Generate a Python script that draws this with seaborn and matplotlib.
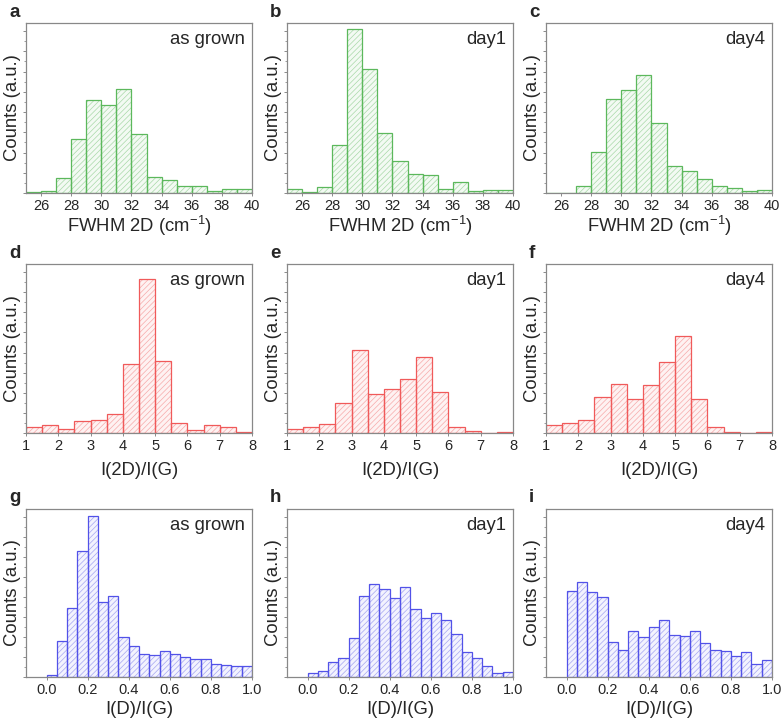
import numpy as np
import pandas as pd
import seaborn as sns
import matplotlib.pyplot as plt
from matplotlib.ticker import MultipleLocator, AutoMinorLocator

# bin edges for each row
fwhm_edges = np.arange(25, 40.5, 1.0)
ratio_edges = np.arange(1, 8.25, 0.5)
dg_edges = np.round(np.arange(0, 1.025, 0.05), 2)

# counts (a.u.)
fwhm_asgrown = [3, 7, 46, 160, 278, 264, 311, 176, 49, 39, 21, 22, 7, 11, 13]
fwhm_day1 = [11, 2, 17, 144, 491, 371, 180, 97, 56, 53, 13, 32, 7, 9, 9]
fwhm_day4 = [0, 0, 22, 122, 281, 308, 352, 208, 82, 67, 43, 22, 16, 6, 10]

ratio_asgrown = [17, 24, 12, 36, 38, 57, 208, 462, 216, 30, 9, 25, 18, 3]
ratio_day1 = [12, 18, 28, 90, 250, 117, 133, 163, 229, 122, 19, 5, 0, 2]
ratio_day4 = [25, 29, 39, 107, 147, 103, 145, 214, 293, 103, 19, 3, 0, 2]

dg_asgrown = [6, 108, 206, 379, 484, 224, 244, 121, 94, 68, 65, 78, 69, 60, 54, 54, 39, 37, 32, 32]
dg_day1 = [13, 17, 46, 56, 118, 244, 280, 265, 237, 269, 205, 176, 191, 172, 128, 74, 56, 32, 13, 14]
dg_day4 = [259, 284, 255, 239, 105, 80, 137, 120, 149, 170, 126, 124, 138, 101, 82, 78, 62, 75, 39, 50]

stages = ["as grown", "day1", "day4"]
letters = ["a", "b", "c", "d", "e", "f", "g", "h", "i"]
xlabels = ["FWHM 2D (cm$^{-1}$)", "I(2D)/I(G)", "I(D)/I(G)"]

rows = [
    (fwhm_edges, [fwhm_asgrown, fwhm_day1, fwhm_day4]),
    (ratio_edges, [ratio_asgrown, ratio_day1, ratio_day4]),
    (dg_edges, [dg_asgrown, dg_day1, dg_day4]),
]

sns.set_style("ticks")
plt.rcParams["font.family"] = ["Liberation Sans", "DejaVu Sans"]
plt.rcParams["mathtext.fontset"] = "custom"
plt.rcParams["mathtext.rm"] = "Liberation Sans"
plt.rcParams["mathtext.it"] = "Liberation Sans:italic"
plt.rcParams["hatch.linewidth"] = 0.5

edge_cols = ["#5cb85c", "#f05a5a", "#5252e8"]
hatch_cols = ["#a9d9a9", "#f7aaaa", "#a6a6f2"]
face_cols = ["#f3faf3", "#fef2f2", "#f3f3fe"]
xlims = [(25, 40), (1, 8), (-0.1, 1.0)]
xsteps = [2, 1, 0.2]
ytops = [[508, 508, 508], [508, 508, 508], [504, 504, 504]]
labelpads = [0.5, 6.5, 2.5]

W, H = 783, 725
fig = plt.figure(figsize=(W / 100, H / 100), dpi=100)

col_left = [26, 287, 546]
row_box = [(23, 193), (264, 433), (509, 677)]
letter_y = [17, 258, 502]

for r, (edges, series) in enumerate(rows):
    centers = (edges[:-1] + edges[1:]) / 2
    top, bottom = row_box[r]
    for c, counts in enumerate(series):
        ax = fig.add_axes([col_left[c] / W, 1 - bottom / H, 226 / W, (bottom - top) / H])
        df = pd.DataFrame({"x": centers, "n": counts})
        # hatched fill (pale lines), then the bar outlines on top
        sns.histplot(data=df, x="x", weights="n", bins=list(edges), ax=ax,
                     facecolor=face_cols[r], edgecolor=hatch_cols[r],
                     linewidth=0, hatch="//////")
        sns.histplot(data=df, x="x", weights="n", bins=list(edges), ax=ax,
                     fill=False, color=edge_cols[r], linewidth=0.9)
        ax.set_xlim(*xlims[r])
        ax.set_ylim(0, ytops[r][c])
        ax.xaxis.set_major_locator(MultipleLocator(xsteps[r]))
        if r == 2:
            ax.xaxis.set_major_formatter(plt.FormatStrFormatter("%.1f"))
        ax.yaxis.set_major_locator(MultipleLocator(ytops[r][c] / 8.4))
        ax.yaxis.set_minor_locator(AutoMinorLocator(2))
        ax.set_yticklabels([])
        ax.tick_params(axis="both", which="major", length=2.5, width=0.6,
                       color="#777777", labelsize=10.5, pad=2)
        ax.tick_params(axis="y", which="minor", length=1.5, width=0.5, color="#777777")
        for sp in ax.spines.values():
            sp.set_visible(True)
            sp.set_color("#888888")
            sp.set_linewidth(0.9)
        ax.set_xlabel(xlabels[r], fontsize=13.3, labelpad=labelpads[r])
        ax.set_ylabel("Counts (a.u.)", fontsize=13.3, labelpad=-1)
        ax.annotate(stages[c], xy=(1, 1), xycoords="axes fraction",
                    xytext=(-5, -6), textcoords="offset points",
                    ha="right", va="top", fontsize=13.3)
        fig.text((col_left[c] - 17) / W, 1 - letter_y[r] / H, letters[r * 3 + c],
                 fontsize=13.5, fontweight="bold", ha="left", va="baseline")

fig.savefig("out.png", dpi=100)
